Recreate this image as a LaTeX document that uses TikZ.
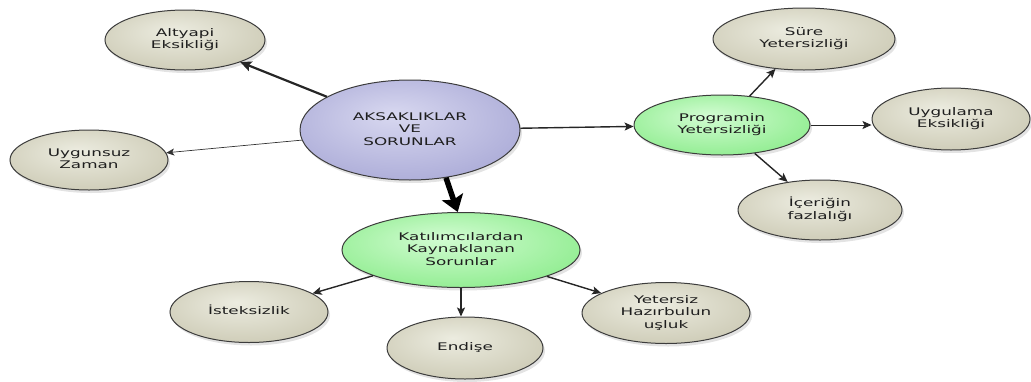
\documentclass[tikz,border=0pt]{standalone}
\usepackage{fontspec}
\newfontfamily\dvs{DejaVu Sans}
\usetikzlibrary{arrows.meta,shadows,shapes.geometric}
\definecolor{gin}{RGB}{236,236,224}
\definecolor{gmid}{RGB}{208,206,186}
\definecolor{gout}{RGB}{158,155,128}
\definecolor{bin}{RGB}{216,216,240}
\definecolor{bmid}{RGB}{176,176,218}
\definecolor{bout}{RGB}{118,118,178}
\definecolor{vin}{RGB}{210,252,210}
\definecolor{vmid}{RGB}{150,238,150}
\definecolor{vout}{RGB}{85,208,85}
\definecolor{bord}{RGB}{60,60,60}
\definecolor{txt}{RGB}{30,30,30}
\pgfdeclareradialshading{gshade}{\pgfpoint{-4bp}{8bp}}{color(0bp)=(gin); color(28bp)=(gmid); color(52bp)=(gout)}
\pgfdeclareradialshading{bshade}{\pgfpoint{-4bp}{8bp}}{color(0bp)=(bin); color(28bp)=(bmid); color(52bp)=(bout)}
\pgfdeclareradialshading{vshade}{\pgfpoint{-4bp}{8bp}}{color(0bp)=(vin); color(28bp)=(vmid); color(52bp)=(vout)}
\newcommand{\mytxt}[1]{\scalebox{1.6}[1]{\begin{tabular}{@{}c@{}}#1\end{tabular}}}
\tikzset{
  base/.style={ellipse, draw=bord, line width=1pt, inner sep=0pt,
    font=\dvs\fontsize{10.5}{12.5}\selectfont, text=txt,
    drop shadow={shadow xshift=2pt, shadow yshift=-3pt, opacity=0.22}},
  gnode/.style={base, shade, shading=gshade},
  bnode/.style={base, shade, shading=bshade},
  vnode/.style={base, shade, shading=vshade},
  arr/.style={draw=black!85, line width=1.4pt, -{Stealth[length=9pt,width=8pt,inset=2pt]}},
  arrthin/.style={draw=black!80, line width=0.7pt, -{Stealth[length=8pt,width=7pt,inset=2pt]}},
  arrmed/.style={draw=black!85, line width=2.2pt, -{Stealth[length=11pt,width=10pt,inset=2pt]}},
  arrbig/.style={draw=black, line width=5.5pt, -{Stealth[length=16pt,width=22pt,inset=3pt]}}
}
\begin{document}
\begin{tikzpicture}[x=1pt,y=-1pt]
\useasboundingbox (0,0) rectangle (1031,381);
\node[bnode, minimum width=220pt, minimum height=100pt] (c) at (410,130) {\mytxt{AKSAKLIKLAR\\VE\\SORUNLAR}};
\node[gnode, minimum width=160pt, minimum height=60pt] (alt) at (185,40) {\mytxt{Altyapi\\Eksikliği}};
\node[gnode, minimum width=158pt, minimum height=60pt] (uz) at (89,160) {\mytxt{Uygunsuz\\Zaman}};
\node[vnode, minimum width=176pt, minimum height=60pt] (p) at (722,125) {\mytxt{Programin\\Yetersizliği}};
\node[gnode, minimum width=182pt, minimum height=62pt] (s) at (804,39) {\mytxt{Süre\\Yetersizliği}};
\node[gnode, minimum width=158pt, minimum height=62pt] (u) at (951,119) {\mytxt{Uygulama\\Eksikliği}};
\node[gnode, minimum width=164pt, minimum height=60pt] (i) at (820,210) {\mytxt{İçeriğin\\fazlalığı}};
\node[vnode, minimum width=238pt, minimum height=75pt] (k) at (461,250) {\mytxt{Katılımcılardan\\Kaynaklanan\\Sorunlar}};
\node[gnode, minimum width=158pt, minimum height=61pt] (ist) at (249,312) {\mytxt{İsteksizlik}};
\node[gnode, minimum width=156pt, minimum height=62pt] (e) at (465,348) {\mytxt{Endişe}};
\node[gnode, minimum width=168pt, minimum height=61pt] (y) at (666,313) {\mytxt{Yetersiz\\Hazırbulun\\uşluk}};
\draw[arrmed] (c) -- (alt);
\draw[arrthin] (c) -- (uz);
\draw[arrbig] (c.-53) -- (k.95);
\draw[arr] (c) -- (p);
\draw[arr] (p) -- (s);
\draw[arr, line width=0.9pt] (p.east) -- (p.east -| u.west);
\draw[arr] (p) -- (i);
\draw[arr] (k) -- (ist);
\draw[arr] (k.south) -- (k.south |- e.north);
\draw[arr] (k) -- (y);
\end{tikzpicture}
\end{document}
